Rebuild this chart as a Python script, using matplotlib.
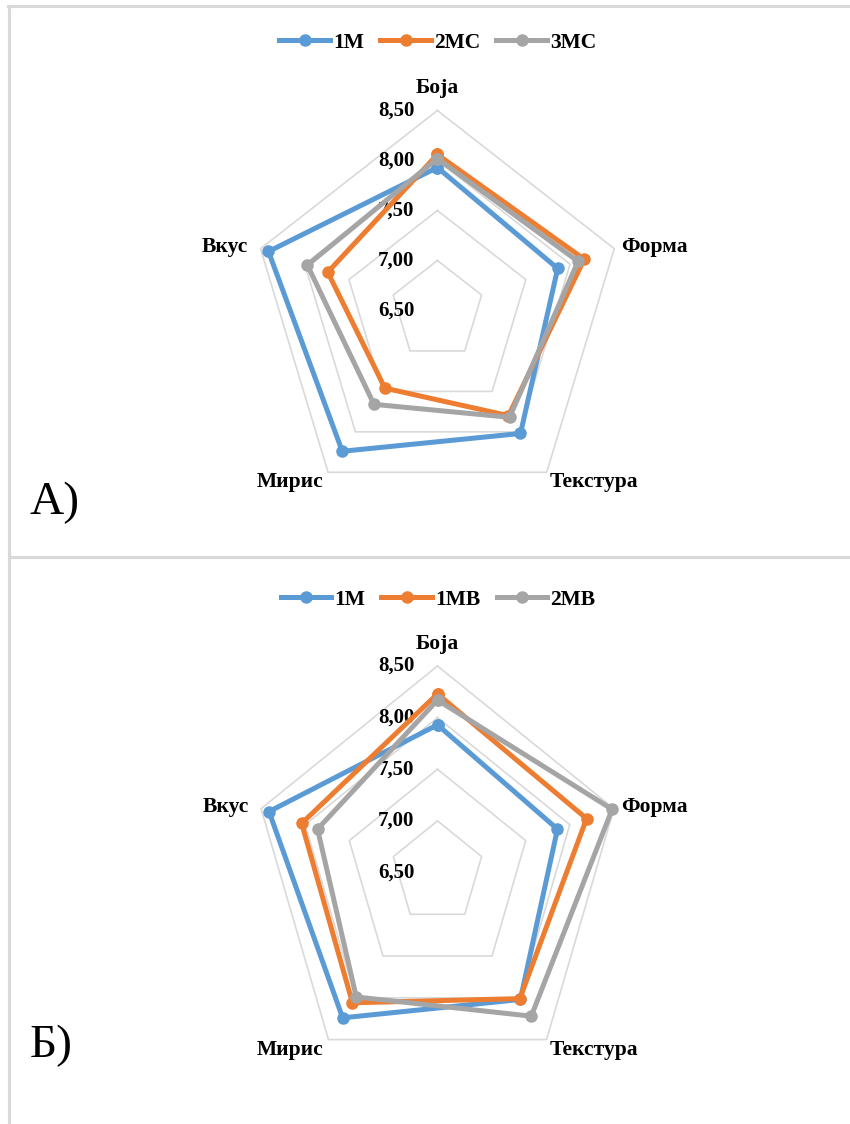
import numpy as np
import matplotlib
matplotlib.use("Agg")
import matplotlib.pyplot as plt
from matplotlib.lines import Line2D

categories = ["Боја", "Форма", "Текстура", "Мирис", "Вкус"]
ring_values = [6.5, 7.0, 7.5, 8.0, 8.5]

# Chart A
series_a_names = ["1М", "2МС", "3МС"]
a_1m = [7.93, 7.86, 8.02, 8.24, 8.41]
a_2mc = [8.06, 8.16, 7.80, 7.46, 7.74]
a_3mc = [8.02, 8.09, 7.82, 7.66, 7.97]

# Chart B
series_b_names = ["1М", "1МВ", "2МВ"]
b_1m = [7.93, 7.86, 8.02, 8.24, 8.41]
b_1mv = [8.23, 8.19, 8.01, 8.06, 8.04]
b_2mv = [8.17, 8.48, 8.22, 7.99, 7.86]

colors = ["#5B9BD5", "#ED7D31", "#A5A5A5"]
grid_color = "#D9D9D9"
W, H = 850, 1124

plt.rcParams['font.family'] = ['Liberation Serif', 'DejaVu Serif']

fig = plt.figure(figsize=(W / 100, H / 100), dpi=100)
fig.patch.set_facecolor("white")


def px_rect(cx, cy, rx, ry):
    return [(cx - rx) / W, 1 - (cy + ry) / H, 2 * rx / W, 2 * ry / H]


label_offsets = {
    "Боја": ((0, 22), "center"),
    "Форма": ((7, 2), "left"),
    "Текстура": ((3, -10), "left"),
    "Мирис": ((-5, -10), "right"),
    "Вкус": ((-12, 2), "right"),
}


def radar(rect, names, data, legend_y):
    ax = fig.add_axes(rect, projection="polar")
    ax.set_theta_zero_location("N")
    ax.set_theta_direction(-1)
    ax.set_aspect("auto")
    ax.set_ylim(ring_values[0], ring_values[-1])
    ax.axis("off")
    n = len(categories)
    ang = np.linspace(0, 2 * np.pi, n, endpoint=False)
    ang_c = np.append(ang, ang[0])
    for v in ring_values[1:]:
        ax.plot(ang_c, [v] * (n + 1), color=grid_color, lw=1.2, zorder=1,
                clip_on=False)
    for v in ring_values:
        ax.annotate(f"{v:.2f}".replace(".", ","), xy=(0, v), xytext=(-23, 0),
                    textcoords="offset pixels", ha="right", va="center",
                    fontsize=15, fontweight="bold", zorder=2)
    handles = []
    for name, vals, c in zip(names, data, colors):
        vv = list(vals) + [vals[0]]
        h, = ax.plot(ang_c, vv, color=c, lw=3.6, marker="o", markersize=8,
                     zorder=3, clip_on=False, label=name,
                     solid_joinstyle="round")
        handles.append(h)
    for a, cat in zip(ang, categories):
        off, ha = label_offsets[cat]
        ax.annotate(cat, xy=(a, ring_values[-1]), xytext=off,
                    textcoords="offset pixels", ha=ha, va="center",
                    fontsize=15.5, fontweight="bold")
    ax.legend(handles=handles, loc="center",
              bbox_to_anchor=(438 / W, 1 - legend_y / H),
              bbox_transform=fig.transFigure, ncol=3, frameon=False,
              prop={"weight": "bold", "size": 15.5}, handlelength=2.35,
              handletextpad=0.15, columnspacing=0.75)
    return ax


radar(px_rect(437.4, 310.5, 186, 200), series_a_names, [a_1m, a_2mc, a_3mc], 43)
radar(px_rect(437.5, 872.5, 185.5, 206.5), series_b_names, [b_1m, b_1mv, b_2mv], 600)

fig.text(30 / W, 1 - 503 / H, "А)", fontsize=34, ha="left", va="center")
fig.text(30 / W, 1 - 1046 / H, "Б)", fontsize=34, ha="left", va="center")

# frame lines
def hline(y, x0, x1):
    fig.add_artist(Line2D([x0 / W, x1 / W], [1 - y / H, 1 - y / H],
                          transform=fig.transFigure, color=grid_color, lw=2.2))

def vline(x, y0, y1):
    fig.add_artist(Line2D([x / W, x / W], [1 - y0 / H, 1 - y1 / H],
                          transform=fig.transFigure, color=grid_color, lw=2.2))

hline(6, 8, W)
vline(9, 6, H)
hline(557, 9, W)

fig.savefig("out.png", dpi=100, facecolor="white")
